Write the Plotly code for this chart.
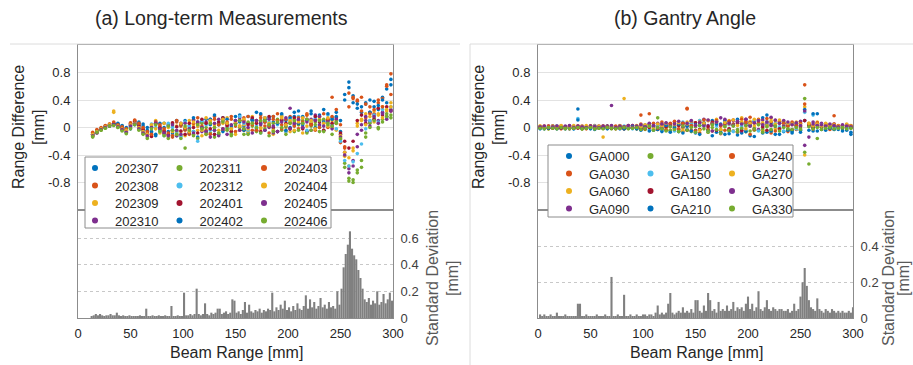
import plotly.graph_objects as go

W, H = 913, 365

# ---------------- DATA: (a) Long-term measurements ----------------
beam_range_a = list(range(14, 300, 4))  # 72 positions, mm

s202307 = [-0.10,-0.06,-0.03,0.00,0.02,0.04,0.06,0.03,0.00,-0.02,0.04,0.08,
           0.05,0.00,-0.06,-0.10,-0.04,0.06,0.02,-0.08,-0.12,0.04,0.10,0.02,
           -0.06,-0.14,0.08,0.12,0.04,-0.04,-0.10,0.14,0.06,-0.02,0.10,0.18,
           0.02,-0.08,0.12,0.22,0.06,-0.04,0.14,0.08,-0.06,0.18,0.10,0.00,
           0.16,0.24,0.04,-0.06,0.20,0.12,0.02,0.26,0.10,0.14,0.22,-0.06,
           0.48,0.66,0.36,0.28,0.22,0.34,0.40,0.30,0.26,0.44,0.56,0.70]
s202308 = [-0.08,-0.04,-0.01,0.02,0.04,0.06,0.02,-0.02,-0.04,0.06,0.10,0.04,
           -0.02,-0.08,-0.12,0.06,0.02,-0.04,-0.10,-0.14,0.08,0.02,-0.04,-0.10,
           0.12,0.06,-0.02,-0.08,0.10,0.16,0.06,-0.04,0.04,0.12,-0.06,0.02,
           0.14,0.06,-0.04,0.10,0.18,0.02,-0.08,0.12,0.20,0.04,-0.06,0.16,
           0.08,-0.02,0.14,0.20,0.06,-0.04,0.16,0.10,0.00,0.44,0.06,-0.22,
           -0.30,0.50,0.42,0.38,0.44,0.14,0.30,0.20,0.36,0.42,0.60,0.48]
s202309 = [-0.12,-0.07,-0.03,0.00,0.05,0.24,0.04,0.00,-0.06,0.02,0.08,0.02,
           -0.04,-0.10,0.04,0.10,0.00,-0.08,-0.14,0.06,0.02,-0.06,-0.12,0.10,
           0.04,-0.04,-0.12,0.14,0.08,0.00,-0.08,0.06,0.14,-0.02,-0.10,0.10,
           0.04,-0.06,0.16,0.08,-0.02,0.12,0.04,-0.10,0.10,0.16,0.00,-0.06,
           0.12,0.04,-0.08,0.18,0.08,-0.02,0.14,0.06,0.02,0.10,-0.04,-0.14,
           -0.42,-0.56,-0.34,0.06,0.12,0.20,0.10,0.24,0.18,0.30,0.24,0.36]
s202310 = [-0.10,-0.05,-0.02,0.01,0.03,0.05,0.03,-0.01,-0.05,0.04,0.07,0.00,
           -0.06,-0.10,0.02,0.08,-0.02,-0.08,0.04,-0.04,-0.12,0.06,-0.02,-0.08,
           0.10,0.02,-0.06,0.08,0.12,-0.04,-0.12,0.10,0.04,-0.06,0.08,0.14,
           -0.02,0.06,0.12,-0.04,0.08,0.14,0.00,-0.08,0.06,0.12,0.02,0.28,
           0.04,0.10,0.00,-0.06,0.12,0.18,0.04,-0.04,0.10,0.02,0.08,-0.10,
           -0.36,-0.60,-0.48,-0.10,0.04,0.16,0.08,0.18,0.10,0.22,0.16,0.26]
s202311 = [-0.14,-0.08,-0.04,-0.01,0.02,0.04,0.00,-0.04,-0.08,0.00,0.05,-0.02,
           -0.08,-0.14,0.00,0.06,-0.04,-0.10,-0.16,0.02,-0.06,-0.12,-0.30,-0.02,
           -0.10,-0.16,0.06,0.00,-0.08,-0.14,0.04,0.10,-0.04,-0.12,0.06,0.00,
           -0.10,0.08,0.02,-0.06,0.10,-0.02,-0.12,0.06,0.12,-0.04,0.02,0.08,
           -0.06,0.04,0.10,-0.08,0.02,0.08,-0.06,0.12,0.04,-0.10,0.06,-0.18,
           -0.52,-0.78,-0.80,-0.66,-0.58,-0.08,0.06,0.14,0.00,0.12,0.20,0.18]
s202312 = [-0.09,-0.05,-0.02,0.02,0.03,0.05,0.02,-0.03,-0.06,0.03,0.06,0.01,
           -0.05,-0.09,0.05,0.00,-0.06,-0.12,0.06,0.00,-0.08,-0.14,0.08,0.02,
           -0.06,-0.20,0.10,0.04,-0.04,-0.10,0.08,0.12,0.00,-0.08,0.10,0.16,
           0.06,-0.04,0.10,0.02,-0.08,0.14,0.08,-0.02,0.04,0.10,-0.06,0.12,
           0.02,0.16,0.06,-0.04,0.10,0.14,0.00,0.08,0.18,0.04,-0.02,-0.20,
           -0.48,-0.56,-0.50,-0.38,-0.24,-0.02,0.10,0.18,0.08,0.26,0.14,0.30]
s202401 = [-0.11,-0.06,-0.02,0.01,0.03,0.06,0.03,0.00,-0.03,0.05,0.09,0.03,
           -0.03,-0.09,-0.13,0.05,0.00,-0.06,-0.11,0.07,0.01,-0.05,-0.10,0.06,
           0.00,-0.08,0.12,0.06,-0.02,-0.10,0.08,0.14,0.02,-0.06,0.06,0.10,
           -0.04,0.04,0.14,0.06,-0.06,0.08,0.16,0.00,-0.06,0.10,0.06,-0.02,
           0.14,0.06,-0.02,0.12,0.04,0.16,0.08,-0.04,0.12,0.06,0.14,-0.08,
           -0.20,-0.30,-0.20,0.10,0.18,0.06,0.22,0.12,0.28,0.18,0.30,0.24]
s202402 = [-0.09,-0.05,-0.02,0.01,0.04,0.05,0.05,0.02,-0.02,0.02,0.06,0.06,
           0.02,-0.04,-0.08,-0.12,0.06,0.00,-0.06,-0.12,0.10,0.04,-0.02,-0.08,
           0.14,0.08,0.00,-0.06,0.12,0.18,0.04,-0.06,0.12,0.02,0.16,0.08,
           -0.04,0.16,0.10,-0.02,0.20,0.12,0.02,0.16,0.06,0.20,-0.04,0.14,
           0.22,0.06,0.16,0.10,0.24,0.00,0.18,0.08,0.20,0.12,0.16,0.10,
           0.40,0.58,0.46,0.34,0.30,0.36,0.22,0.38,0.32,0.40,0.36,0.62]
s202403 = [-0.07,-0.03,0.00,0.03,0.05,0.08,0.04,0.01,-0.02,0.07,0.11,0.06,
           0.00,-0.06,-0.10,0.08,0.04,-0.02,-0.08,-0.12,0.10,0.04,-0.02,-0.08,
           0.06,0.14,0.02,-0.04,-0.10,0.12,0.04,-0.02,0.08,0.16,0.02,-0.04,
           0.10,0.16,0.04,-0.04,0.14,0.08,0.02,0.16,0.10,-0.02,0.12,0.06,
           0.02,0.14,0.08,0.18,0.04,0.10,0.00,0.20,0.12,0.16,0.26,0.04,
           -0.28,0.30,0.44,0.40,0.24,0.34,0.20,0.26,0.40,0.30,0.62,0.78]
s202404 = [-0.10,-0.06,-0.02,0.01,0.04,0.22,0.02,-0.02,-0.04,0.04,0.06,0.00,
           -0.06,-0.10,0.04,-0.02,-0.08,0.06,0.00,-0.06,-0.10,0.06,0.00,-0.06,
           0.08,0.02,-0.04,-0.10,0.10,0.04,-0.04,0.12,0.06,-0.02,0.08,0.02,
           0.12,-0.02,0.06,0.10,0.00,0.14,0.06,-0.04,0.08,0.14,0.04,0.10,
           -0.04,0.08,0.14,0.02,0.10,-0.02,0.12,0.06,0.14,0.00,0.10,-0.12,
           -0.36,-0.44,-0.30,0.02,0.10,0.04,0.16,0.08,0.20,0.14,0.26,0.30]
s202405 = [-0.12,-0.08,-0.03,0.00,0.02,0.04,0.01,-0.03,-0.07,0.02,0.05,-0.02,
           -0.08,-0.12,0.00,0.06,-0.02,-0.08,-0.12,0.04,-0.04,-0.10,0.06,-0.02,
           -0.08,0.08,0.00,-0.06,-0.14,0.06,0.12,-0.02,-0.10,0.04,0.10,-0.04,
           0.08,0.00,-0.08,0.10,0.04,-0.04,0.12,0.02,-0.06,0.08,0.14,-0.02,
           0.06,0.12,0.00,0.08,-0.04,0.10,0.16,0.02,0.08,-0.02,0.12,-0.14,
           -0.40,-0.66,-0.56,-0.28,-0.04,0.10,0.02,0.16,0.06,0.20,0.12,0.24]
s202406 = [-0.13,-0.07,-0.04,-0.01,0.02,0.03,0.00,-0.05,-0.09,-0.02,0.04,-0.04,
           -0.10,-0.16,-0.02,0.04,-0.06,-0.12,0.02,-0.04,-0.10,-0.16,0.02,-0.04,
           -0.12,0.04,-0.02,-0.10,0.06,0.00,-0.08,0.08,-0.02,-0.10,0.04,0.10,
           -0.02,-0.10,0.06,0.00,-0.08,0.10,0.04,-0.06,0.08,0.00,-0.10,0.06,
           0.10,-0.04,0.06,0.12,-0.04,0.04,0.10,-0.06,0.06,0.02,0.08,-0.16,
           -0.58,-0.74,-0.76,-0.62,-0.48,-0.14,0.00,0.10,-0.02,0.08,0.16,0.14]

series_names_a = ["202307", "202308", "202309", "202310", "202311", "202312",
                  "202401", "202402", "202403", "202404", "202405", "202406"]
series_a = [s202307, s202308, s202309, s202310, s202311, s202312,
            s202401, s202402, s202403, s202404, s202405, s202406]

sd_range_a = list(range(13, 300, 2))  # 144 positions
sd_a = ([0.01,0.02,0.03,0.02,0.03,0.02,0.01,0.02,0.02,0.03,0.02,0.02,0.04,0.02] +
        [0.01,0.02,0.01,0.01,0.02,0.01,0.01,0.01,0.01,0.02,
         0.01,0.01,0.07,0.01,0.01,0.02,0.01,0.01,0.02,0.01,
         0.01,0.02,0.01,0.01,0.09,0.01,0.01,0.02,0.01,0.01] +
        [0.19,0.02,0.02,0.03,0.02,0.03,0.22,0.03,0.02,0.03,0.11,0.03,0.02,
         0.04,0.03,0.04,0.07,0.07,0.03,0.04,0.05,0.03,0.04,0.14,0.13] +
        [0.04,0.05,0.03,0.06,0.12,0.04,0.10,0.05,0.04,0.06,0.05,0.07,0.04,
         0.06,0.05,0.07,0.06,0.19,0.05,0.08,0.06,0.10,0.07,0.13,0.06] +
        [0.08,0.05,0.09,0.06,0.11,0.07,0.06,0.09,0.17,0.07,0.14,0.08,0.12,
         0.07,0.09,0.15,0.08,0.10,0.07,0.12,0.08,0.09,0.07,0.20,0.10] +
        [0.22,0.38,0.48,0.55,0.65,0.52,0.47,0.44,0.36,0.30,0.22,0.14,0.12,
         0.15,0.10,0.13,0.11,0.20,0.10,0.12,0.18,0.11,0.14,0.19,0.13])

# ---------------- DATA: (b) Gantry angle ----------------
beam_range_b = list(range(2, 300, 4))  # 75 positions

ga000 = [0.01,-0.02,0.00,0.02,-0.01,0.01,-0.02,0.00,0.01,0.27,-0.02,0.01,0.00,-0.03,0.01,
         0.00,0.02,-0.01,0.01,-0.02,0.00,0.02,-0.01,0.00,-0.03,0.02,0.01,-0.04,0.03,-0.02,
         0.04,-0.05,0.02,-0.06,0.05,-0.03,0.06,-0.08,0.03,0.07,-0.04,0.10,-0.07,0.05,-0.10,
         0.08,-0.05,0.12,-0.08,0.06,-0.12,0.09,-0.04,0.14,-0.07,0.05,-0.10,0.08,-0.06,0.04,
         -0.08,0.06,-0.04,0.10,0.02,-0.05,0.20,-0.03,0.04,-0.02,0.01,-0.03,0.02,-0.04,-0.07]
ga030 = [0.00,0.02,-0.01,0.01,0.02,-0.02,0.01,0.00,-0.01,0.02,0.00,-0.02,0.01,0.03,0.00,
         -0.01,0.01,0.00,-0.02,0.02,0.01,-0.01,0.03,-0.02,0.18,0.00,0.20,-0.03,0.04,0.02,
         -0.04,0.06,-0.02,0.05,-0.06,0.28,-0.04,0.07,-0.08,0.05,0.10,-0.05,0.08,-0.09,0.06,
         -0.04,0.11,-0.07,0.05,0.09,-0.10,0.06,0.12,-0.05,0.08,-0.08,0.10,-0.03,0.07,-0.06,
         0.05,-0.03,0.08,0.62,0.04,-0.02,0.06,0.00,0.05,-0.03,0.17,0.02,-0.02,0.03,0.01]
ga060 = [0.02,0.00,-0.02,0.01,0.00,0.02,-0.01,0.01,0.03,0.00,-0.02,0.01,0.02,-0.01,0.00,
         0.02,-0.01,0.01,0.00,0.02,0.42,-0.01,0.02,0.00,0.03,-0.02,0.04,0.01,-0.03,0.05,
         0.02,-0.04,0.06,0.03,-0.05,0.08,0.02,-0.06,0.10,0.04,-0.07,0.06,0.12,-0.03,0.08,
         0.10,-0.05,0.07,0.14,-0.06,0.09,0.02,0.11,-0.04,0.08,0.13,-0.02,0.06,0.09,-0.03,
         0.04,0.07,0.02,0.30,0.06,0.03,0.08,0.02,0.05,0.01,0.04,0.02,0.03,0.01,0.02]
ga090 = [0.00,0.01,0.02,-0.01,0.01,0.00,0.02,-0.02,0.01,0.00,0.02,-0.01,0.00,0.01,0.02,
         -0.01,0.01,0.32,0.00,0.02,-0.01,0.01,0.03,0.00,0.02,-0.02,0.05,0.02,0.06,-0.01,
         0.05,0.03,0.08,-0.03,0.06,0.02,0.09,-0.04,0.07,0.12,0.03,-0.05,0.09,0.14,0.04,
         -0.03,0.10,0.06,-0.05,0.12,0.04,0.08,-0.03,0.11,0.05,0.15,0.02,0.07,0.10,0.04,
         0.06,0.02,0.09,-0.26,0.05,0.08,0.03,0.06,0.02,0.04,0.05,0.01,0.03,0.04,0.02]
ga120 = [-0.01,0.00,-0.02,0.01,-0.01,0.00,-0.02,0.01,-0.01,0.00,-0.02,-0.01,0.00,-0.02,0.01,
         -0.01,0.00,-0.02,-0.01,0.01,-0.02,0.00,-0.01,-0.02,0.00,-0.03,0.01,-0.02,0.14,-0.03,
         0.00,-0.04,0.02,-0.05,0.00,0.03,-0.06,0.01,-0.03,0.04,-0.07,0.00,0.05,-0.04,0.02,
         -0.05,0.03,-0.03,0.06,-0.06,0.02,-0.04,0.05,-0.02,0.03,-0.05,0.04,-0.01,0.02,-0.03,
         -0.04,0.01,-0.03,0.42,-0.53,-0.01,-0.16,0.00,-0.02,0.01,-0.03,0.00,-0.02,0.01,-0.01]
ga150 = [0.01,-0.01,0.01,0.00,0.02,-0.01,0.01,0.00,-0.02,0.13,0.00,0.01,-0.01,0.02,0.00,
         0.01,-0.01,0.02,0.00,-0.01,0.02,0.01,-0.02,0.00,0.02,0.04,-0.03,0.05,0.02,-0.04,
         0.06,0.02,-0.05,0.04,0.08,-0.03,0.05,-0.07,0.10,0.03,-0.05,0.07,0.02,-0.08,0.06,
         0.04,-0.06,0.09,0.02,-0.04,0.07,0.10,-0.05,0.03,0.08,-0.03,0.06,0.01,-0.05,0.04,
         0.07,-0.02,0.05,0.22,0.03,0.18,0.01,0.04,-0.01,0.03,0.02,-0.01,0.02,0.00,0.01]
ga180 = [0.00,0.01,-0.01,0.02,0.00,-0.01,0.01,0.02,0.00,-0.01,0.01,0.00,0.02,-0.01,0.01,
         0.00,0.02,-0.01,0.01,0.00,-0.02,0.02,0.00,0.01,-0.01,0.03,0.00,0.02,-0.03,0.04,
         0.01,0.05,-0.02,0.03,0.06,-0.04,0.02,0.07,-0.03,0.05,0.01,0.08,-0.04,0.03,0.06,
         -0.02,0.05,0.08,-0.04,0.03,0.07,-0.02,0.06,0.01,-0.04,0.08,0.03,-0.02,0.05,0.02,
         -0.03,0.04,0.01,0.10,0.03,0.00,0.04,0.01,0.02,0.00,0.03,0.01,0.00,0.02,0.01]
ga210 = [-0.02,0.01,-0.01,0.00,-0.02,0.01,0.00,-0.01,-0.02,0.11,-0.01,0.00,-0.02,0.01,-0.01,
         0.00,-0.02,0.01,-0.01,0.00,-0.02,-0.01,0.01,-0.02,-0.04,0.02,-0.05,0.01,-0.03,-0.06,
         0.03,-0.07,0.00,0.05,-0.08,0.02,-0.05,0.04,-0.10,0.06,-0.03,-0.12,0.05,-0.07,0.10,
         -0.09,0.04,-0.11,0.07,-0.06,0.03,-0.13,0.05,-0.08,0.18,-0.05,0.02,-0.10,0.06,-0.04,
         -0.06,0.03,-0.07,0.26,-0.04,0.20,-0.05,0.02,-0.04,-0.01,-0.03,0.01,-0.05,-0.02,-0.10]
ga240 = [0.01,0.00,0.02,-0.01,0.01,0.02,0.00,0.01,-0.01,0.02,0.01,0.00,0.02,0.01,-0.01,
         0.02,0.00,0.01,0.02,-0.01,0.01,0.03,0.00,0.02,0.05,-0.02,0.04,0.06,-0.01,0.08,
         -0.03,0.05,0.09,-0.02,0.06,0.27,0.03,-0.05,0.08,0.11,-0.03,0.06,0.10,0.02,-0.04,
         0.09,0.04,-0.06,0.12,0.07,0.15,-0.03,0.08,0.05,0.13,0.03,-0.05,0.09,0.06,0.02,
         0.08,0.03,0.06,0.34,0.05,0.02,0.07,0.03,0.04,0.02,0.05,0.03,0.02,0.04,0.03]
ga270 = [0.02,0.01,0.00,0.02,0.01,0.03,0.00,0.02,0.01,0.00,0.02,0.03,0.01,0.00,0.02,
         -0.14,0.01,0.02,0.00,0.03,0.01,0.02,0.00,0.03,0.01,0.04,0.02,-0.02,0.05,0.03,
         0.06,0.01,0.04,0.07,-0.02,0.05,0.09,0.03,-0.04,0.06,0.10,0.04,0.08,-0.03,0.07,
         0.05,0.11,0.03,0.08,-0.02,0.06,0.12,0.04,0.07,0.02,0.09,0.05,0.11,0.03,0.06,
         0.05,0.08,0.04,-0.40,0.06,0.03,0.05,0.02,0.06,0.03,0.04,0.02,0.03,0.05,0.02]
ga300 = [0.01,0.02,0.00,0.01,0.02,0.00,0.01,0.03,0.00,0.02,0.01,0.00,0.02,0.01,0.00,
         0.02,0.01,0.03,0.00,0.02,0.01,0.03,0.00,0.02,0.04,0.01,0.06,0.03,0.00,0.05,
         0.07,0.02,0.05,0.09,0.01,0.06,0.10,0.03,0.07,0.02,0.11,0.05,0.08,0.04,0.12,
         0.06,0.03,0.09,0.05,0.12,0.02,0.07,0.10,0.04,0.08,0.03,0.11,0.06,0.02,0.08,
         0.04,0.07,0.03,0.24,-0.14,0.05,0.03,0.04,0.02,0.05,0.03,0.01,0.04,0.02,0.01]
ga330 = [-0.01,-0.02,0.00,-0.01,-0.02,0.00,-0.01,-0.02,-0.01,0.00,-0.02,-0.01,0.00,-0.02,-0.01,
         -0.02,0.00,-0.01,-0.02,-0.01,0.00,-0.02,-0.01,0.00,-0.03,-0.01,0.02,-0.04,0.00,-0.02,
         -0.05,0.01,-0.03,-0.06,0.02,-0.04,0.00,-0.07,0.03,-0.02,-0.05,0.04,-0.03,-0.08,0.01,
         -0.04,0.02,-0.06,-0.01,0.03,-0.05,-0.02,0.04,-0.07,0.01,-0.03,0.02,-0.05,0.00,-0.02,
         -0.03,0.00,-0.02,-0.36,0.01,-0.02,0.00,-0.03,-0.01,0.00,-0.02,-0.01,0.00,-0.02,-0.01]

series_names_b = ["GA000", "GA030", "GA060", "GA090", "GA120", "GA150",
                  "GA180", "GA210", "GA240", "GA270", "GA300", "GA330"]
series_b = [ga000, ga030, ga060, ga090, ga120, ga150,
            ga180, ga210, ga240, ga270, ga300, ga330]

sd_range_b = list(range(2, 301, 2))  # 150 positions
sd_b = ([0.02,0.01,0.02,0.01,0.01,0.02,0.01,0.01,0.03,0.01,
         0.01,0.01,0.02,0.01,0.01,0.01,0.01,0.01,0.08,0.08] +
        [0.01,0.01,0.02,0.01,0.01,0.01,0.01,0.02,0.01,0.01,
         0.01,0.02,0.01,0.01,0.23,0.01,0.01,0.02,0.01,0.01,
         0.13,0.01,0.01,0.02,0.01,0.01,0.02,0.01,0.01,0.02] +
        [0.02,0.01,0.02,0.02,0.01,0.03,0.07,0.02,0.03,0.02,
         0.03,0.08,0.14,0.03,0.02,0.03,0.04,0.03,0.06,0.03,
         0.04,0.03,0.05,0.03,0.10] +
        [0.10,0.04,0.03,0.07,0.04,0.14,0.10,0.04,0.05,0.03,
         0.09,0.04,0.05,0.04,0.07,0.04,0.05,0.09,0.04,0.06,
         0.05,0.06,0.04,0.08,0.12] +
        [0.05,0.08,0.04,0.06,0.15,0.05,0.04,0.06,0.10,0.05,
         0.04,0.06,0.05,0.04,0.05,0.05,0.04,0.04,0.05,0.03,
         0.04,0.08,0.04,0.05,0.12] +
        [0.20,0.28,0.18,0.10,0.06,0.05,0.04,0.11,0.05,0.04,
         0.03,0.05,0.04,0.03,0.05,0.04,0.03,0.04,0.03,0.04,
         0.03,0.03,0.04,0.03,0.06])

for s in series_a:
    assert len(s) == len(beam_range_a), len(s)
for s in series_b:
    assert len(s) == len(beam_range_b), len(s)
assert len(sd_a) == len(sd_range_a), len(sd_a)
assert len(sd_b) == len(sd_range_b), len(sd_b)

colors = ["#0072BD", "#D95319", "#EDB120", "#7E2F8E", "#77AC30", "#4DBEEE",
          "#A2142F", "#0072BD", "#D95319", "#EDB120", "#7E2F8E", "#77AC30"]

diff_ticks = [-0.8, -0.4, 0, 0.4, 0.8]
diff_ticktext = ["-0.8", "-0.4", "0", "0.4", "0.8"]
range_ticks = [0, 50, 100, 150, 200, 250, 300]

# ---------------- LAYOUT helpers ----------------
def px(x):
    return x / W

def py(y):
    return 1 - y / H

TXT = "#262626"
AX = "#8c8c8c"
FONT = "Liberation Sans, Arial, sans-serif"

fig = go.Figure()

panels = [
    dict(names=series_names_a, series=series_a, xr=beam_range_a, sdx=sd_range_a, sd=sd_a,
         xa="x", ya="y", xb="x2", yb="y2", x0=78, x1=393, sdmax=0.81, sdticks=[0, 0.2, 0.4, 0.6],
         leg0=1, legx=75, rows=[168, 185.5, 203, 220.5], entry=39.5, box=(85, 157, 331, 228)),
    dict(names=series_names_b, series=series_b, xr=beam_range_b, sdx=sd_range_b, sd=sd_b,
         xa="x3", ya="y3", xb="x4", yb="y4", x0=538, x1=853, sdmax=0.605, sdticks=[0, 0.2, 0.4],
         leg0=5, legx=549, rows=[156, 173.5, 191, 208.5], entry=36.5, box=(548, 145, 793, 217)),
]

def legname(k):
    return "legend" if k == 1 else f"legend{k}"

layout_axes = {}
legend_defs = {}
for p in panels:
    # scatter of range differences
    for i, (nm, vals) in enumerate(zip(p["names"], p["series"])):
        fig.add_trace(go.Scatter(x=p["xr"], y=vals, mode="markers", name=nm,
                                 marker=dict(size=3.6, color=colors[i]),
                                 xaxis=p["xa"], yaxis=p["ya"], showlegend=False,
                                 hoverinfo="skip"))
    # legend entries: 4 horizontal rows of 3 (MATLAB column-major layout)
    for i, nm in enumerate(p["names"]):
        row = i % 4
        fig.add_trace(go.Scatter(x=[None], y=[None], mode="markers", name=nm,
                                 marker=dict(size=6, color=colors[i]),
                                 xaxis=p["xa"], yaxis=p["ya"], showlegend=True,
                                 legend=legname(p["leg0"] + row)))
    for row, ry in enumerate(p["rows"]):
        legend_defs[legname(p["leg0"] + row)] = dict(
            x=px(p["legx"]), y=py(ry), xanchor="left", yanchor="middle",
            orientation="h", entrywidth=p["entry"], entrywidthmode="pixels",
            bgcolor="rgba(0,0,0,0)", borderwidth=0,
            font=dict(size=13, color=TXT, family=FONT),
            itemclick=False, itemdoubleclick=False, traceorder="normal")
    # standard deviation bars
    fig.add_trace(go.Bar(x=p["sdx"], y=p["sd"], width=2.0,
                         marker=dict(color="#808080", line=dict(width=0)),
                         xaxis=p["xb"], yaxis=p["yb"], showlegend=False, hoverinfo="skip"))

    k_top = p["xa"][1:] or ""
    k_bot = p["xb"][1:]
    dom_x = [px(p["x0"]), px(p["x1"])]
    layout_axes["xaxis" + k_top] = dict(domain=dom_x, range=[0, 300], anchor=p["ya"],
                                        showticklabels=False, showgrid=False, zeroline=False,
                                        showline=True, mirror=True, linecolor=AX, linewidth=1,
                                        ticks="", automargin=False)
    layout_axes["yaxis" + k_top] = dict(domain=[py(210), py(45)], range=[-1.2, 1.2], anchor=p["xa"],
                                        tickvals=diff_ticks, ticktext=diff_ticktext,
                                        tickfont=dict(size=13, color=TXT), showgrid=True,
                                        gridcolor="#e2e2e2", zeroline=False, showline=True, mirror=True,
                                        linecolor=AX, linewidth=1, ticks="", ticklabelstandoff=4,
                                        automargin=False)
    layout_axes["xaxis" + k_bot] = dict(domain=dom_x, range=[0, 300], anchor=p["yb"],
                                        tickvals=range_ticks, tickfont=dict(size=13, color=TXT),
                                        showgrid=False, zeroline=False, showline=True, mirror=True,
                                        linecolor=AX, linewidth=1, ticks="", ticklabelstandoff=3,
                                        automargin=False)
    layout_axes["yaxis" + k_bot] = dict(domain=[py(318), py(210)], range=[0, p["sdmax"]], anchor=p["xb"],
                                        side="right", tickvals=p["sdticks"],
                                        ticktext=["0" if t == 0 else f"{t:.1f}" for t in p["sdticks"]],
                                        tickfont=dict(size=13, color="#404040"), showgrid=True,
                                        gridcolor="#c8c8c8", griddash="dot", zeroline=False,
                                        showline=True, mirror=True, linecolor=AX, linewidth=1,
                                        ticks="", ticklabelstandoff=4, automargin=False)

shapes = []
for p in panels:
    x0, y0, x1, y1 = p["box"]
    shapes.append(dict(type="rect", xref="paper", yref="paper", x0=px(x0), x1=px(x1), y0=py(y1), y1=py(y0),
                       line=dict(color="#8c8c8c", width=1), fillcolor="white", layer="above"))
# panel frames
shapes += [
    dict(type="line", xref="paper", yref="paper", x0=px(10), x1=px(460), y0=py(44), y1=py(44),
         line=dict(color="#dcdcdc", width=1)),
    dict(type="line", xref="paper", yref="paper", x0=px(470), x1=px(913), y0=py(44), y1=py(44),
         line=dict(color="#dcdcdc", width=1)),
    dict(type="line", xref="paper", yref="paper", x0=px(470), x1=px(470), y0=py(44), y1=py(365),
         line=dict(color="#dcdcdc", width=1)),
]

annotations = []
def ann(text, x, y, size, color=TXT, angle=0):
    annotations.append(dict(text=text, x=px(x), y=py(y), xref="paper", yref="paper",
                            showarrow=False, textangle=angle, xanchor="center", yanchor="middle",
                            font=dict(size=size, color=color, family=FONT)))

ann("(a) Long-term Measurements", 221, 18, 19.5)
ann("(b) Gantry Angle", 685, 18, 19.5)
for off in (0, 460):
    ann("Range Difference", 18 + off, 127, 16, angle=-90)
    ann("[mm]", 38 + off, 127, 16, angle=-90)
    ann("Beam Range [mm]", 236 + off, 352, 16)
for x_sd, x_mm in ((432, 452), (888, 903)):
    ann("Standard Deviation", x_sd, 278, 16, color="#595959", angle=-90)
    ann("[mm]", x_mm, 278, 16, color="#595959", angle=-90)

fig.update_layout(
    width=W, height=H, margin=dict(l=0, r=0, t=0, b=0, autoexpand=False),
    paper_bgcolor="white", plot_bgcolor="white",
    font=dict(family=FONT, color=TXT),
    shapes=shapes, annotations=annotations,
    **layout_axes, **legend_defs,
)

fig.write_html("out.html")
